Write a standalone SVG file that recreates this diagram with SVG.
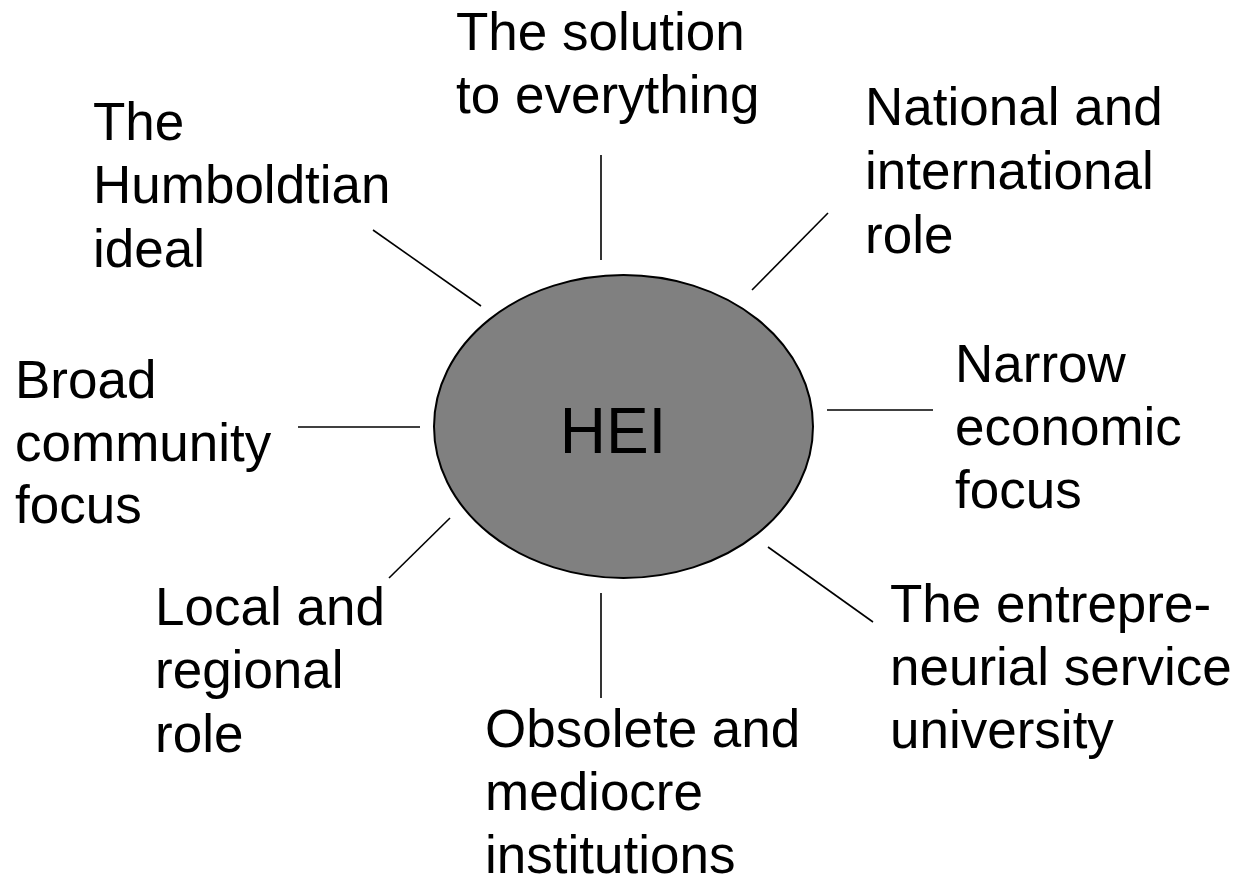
<svg xmlns="http://www.w3.org/2000/svg" width="1242" height="878" viewBox="0 0 1242 878">
  <style>
    .lbl { font-family: "Liberation Sans", Arial, sans-serif; font-size: 53px; fill: #000; }
    .hub { font-family: "Liberation Sans", Arial, sans-serif; font-size: 64px; fill: #000; }
    .spoke { stroke: #000; stroke-width: 1.6; fill: none; }
  </style>
  <rect width="1242" height="878" fill="#fff"/>

  <!-- central node -->
  <g id="hei">
    <ellipse cx="623.5" cy="426.5" rx="189.5" ry="151.5" fill="#808080" stroke="#000" stroke-width="2"/>
    <text class="hub" x="613" y="453" text-anchor="middle">HEI</text>
  </g>

  <!-- spokes -->
  <g id="connectors">
    <line class="spoke" x1="601" y1="155" x2="601" y2="260"/>
    <line class="spoke" x1="373" y1="230" x2="481" y2="306"/>
    <line class="spoke" x1="828" y1="213" x2="752" y2="290"/>
    <line class="spoke" x1="298" y1="427" x2="420" y2="427"/>
    <line class="spoke" x1="827" y1="410" x2="933" y2="410"/>
    <line class="spoke" x1="389" y1="578" x2="450" y2="518"/>
    <line class="spoke" x1="601" y1="593" x2="601" y2="698"/>
    <line class="spoke" x1="768" y1="547" x2="873" y2="622"/>
  </g>

  <g id="solution">
    <text class="lbl" x="456" y="50">The solution</text>
    <text class="lbl" x="456" y="113">to everything</text>
  </g>
  <g id="humboldtian">
    <text class="lbl" x="93" y="140">The</text>
    <text class="lbl" x="93" y="203">Humboldtian</text>
    <text class="lbl" x="93" y="267">ideal</text>
  </g>
  <g id="national">
    <text class="lbl" x="865" y="125">National and</text>
    <text class="lbl" x="865" y="189">international</text>
    <text class="lbl" x="865" y="253">role</text>
  </g>
  <g id="broad">
    <text class="lbl" x="15" y="398">Broad</text>
    <text class="lbl" x="15" y="461">community</text>
    <text class="lbl" x="15" y="523">focus</text>
  </g>
  <g id="narrow">
    <text class="lbl" x="955" y="382">Narrow</text>
    <text class="lbl" x="955" y="445">economic</text>
    <text class="lbl" x="955" y="508">focus</text>
  </g>
  <g id="local">
    <text class="lbl" x="155" y="625">Local and</text>
    <text class="lbl" x="155" y="688">regional</text>
    <text class="lbl" x="155" y="752">role</text>
  </g>
  <g id="obsolete">
    <text class="lbl" x="485" y="747">Obsolete and</text>
    <text class="lbl" x="485" y="810">mediocre</text>
    <text class="lbl" x="485" y="873">institutions</text>
  </g>
  <g id="entrepreneurial">
    <text class="lbl" x="890" y="622">The entrepre-</text>
    <text class="lbl" x="890" y="685">neurial service</text>
    <text class="lbl" x="890" y="748">university</text>
  </g>
</svg>
